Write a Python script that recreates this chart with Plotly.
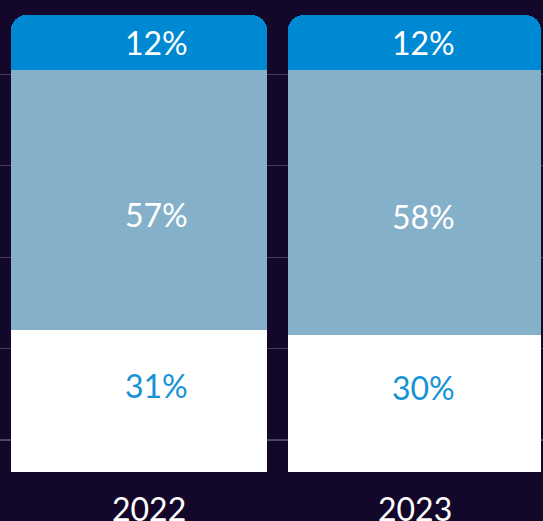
import plotly.graph_objects as go

years = ['2022', '2023']
bottom_share = [31, 30]
middle_share = [57, 58]
top_share = [12, 12]

bg = '#13072a'
seg_colors = ['#ffffff', '#84b0c9', '#0089d3']
text_colors = ['#1593d5', '#ffffff', '#ffffff']
font_family = 'Lato, Noto Sans, sans-serif'

series = [bottom_share, middle_share, top_share]

fig = go.Figure()
for vals, col in zip(series, seg_colors):
    fig.add_trace(go.Bar(
        x=years, y=vals,
        width=[0.929, 0.918],
        marker=dict(color=col, line_width=0),
        hoverinfo='skip',
    ))

# value labels, nudged a bit like the original
x_nudge = [18, 9]
y_nudge = [16, -14, 0]
for i, year in enumerate(years):
    base = 0
    for s, vals in enumerate(series):
        fig.add_annotation(
            x=i, y=base + vals[i] / 2,
            text=f'{vals[i]}%',
            showarrow=False,
            xshift=x_nudge[i], yshift=y_nudge[s],
            font=dict(family=font_family, size=32, color=text_colors[s]),
        )
        base += vals[i]
    # year label under the bar
    fig.add_annotation(
        x=i, y=0, yref='paper', yanchor='top',
        text=year, showarrow=False,
        xshift=[10, 0][i], yshift=-15,
        font=dict(family=font_family, size=32, color='#ffffff'),
    )

# lighter bottom grid line
fig.add_shape(type='line', xref='paper', x0=0, x1=1, y0=7, y1=7,
              line=dict(color='#8c8797', width=1), layer='below')

fig.update_layout(
    width=543, height=521,
    barmode='stack',
    barcornerradius=15,
    paper_bgcolor=bg, plot_bgcolor=bg,
    margin=dict(l=0, r=0, t=0, b=49),
    showlegend=False,
    hovermode=False,
    font=dict(family=font_family, color='#ffffff'),
)
fig.update_xaxes(
    type='category', range=[-0.5045, 1.4664],
    showgrid=False, zeroline=False, showline=False,
    showticklabels=False, ticks='',
)
fig.update_yaxes(
    range=[0, 103.3],
    tickvals=[27, 47, 67, 87],
    showticklabels=False,
    gridcolor='#463a58', gridwidth=1,
    zeroline=False, showline=False,
)

fig.write_html('out.html', config={'displayModeBar': False},
               post_script="document.body.style.margin='0';")
